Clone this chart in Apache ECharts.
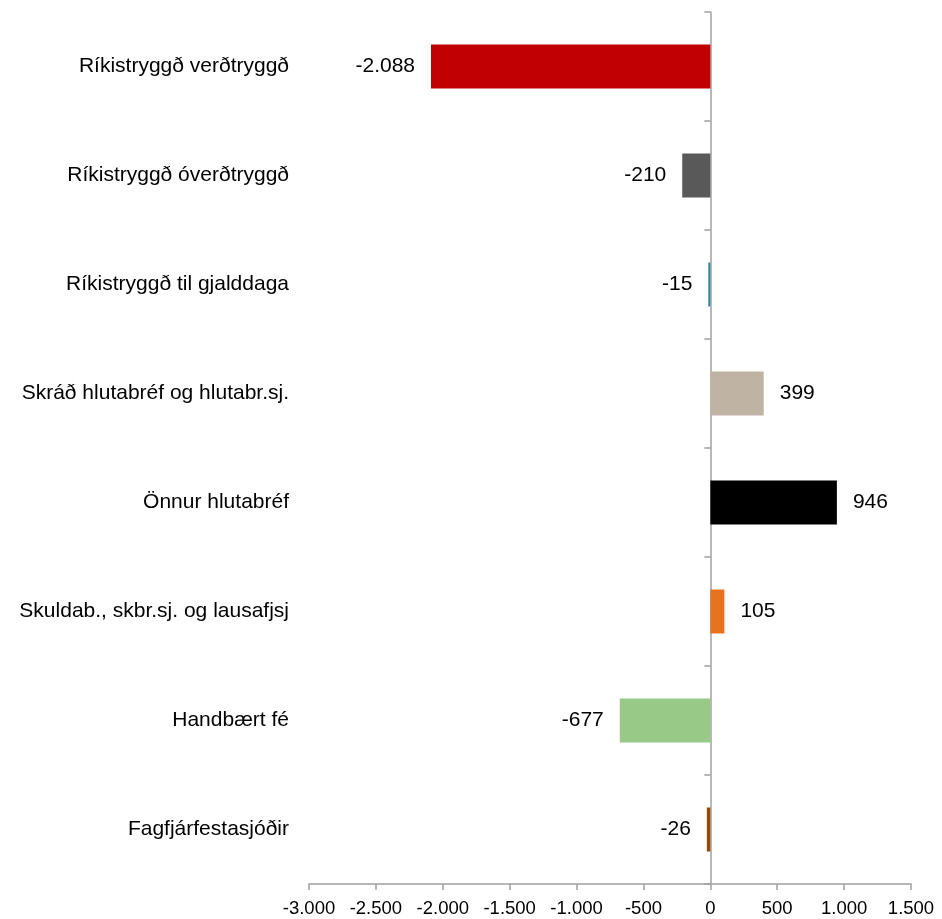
<!DOCTYPE html>
<html>
<head>
<meta charset="utf-8">
<script src="https://cdn.jsdelivr.net/npm/echarts@6/dist/echarts.min.js"></script>
<style>
  html, body { margin: 0; padding: 0; background: #fff; }
  #chart { width: 942px; height: 919px; }
</style>
</head>
<body>
<div id="chart"></div>
<script>
var categories = [
    'Ríkistryggð verðtryggð',
    'Ríkistryggð óverðtryggð',
    'Ríkistryggð til gjalddaga',
    'Skráð hlutabréf og hlutabr.sj.',
    'Önnur hlutabréf',
    'Skuldab., skbr.sj. og lausafjsj',
    'Handbært fé',
    'Fagfjárfestasjóðir'
];
var values = [-2088, -210, -15, 399, 946, 105, -677, -26];

// bar colours, one per category
var barColors = ['#c00000', '#595959', '#31849b', '#bfb3a3', '#000000', '#e8731e', '#98c987', '#974706'];

function fmt(v) {
    return String(v).replace(/\B(?=(\d{3})+(?!\d))/g, '.');
}

function initChart() {
    var _chart = echarts.init(document.getElementById('chart'));
    var axisColor = '#a0a0a0';
    var font = '"Liberation Sans", Arial, sans-serif';

    var data = values.map(function (v, i) {
        return {
            value: v,
            itemStyle: { color: barColors[i] },
            label: { position: v < 0 ? 'left' : 'right' }
        };
    });

    var option = {
        animation: false,
        grid: { left: 309, right: 31, top: 12, bottom: 35 },
        xAxis: {
            type: 'value',
            min: -3000,
            max: 1500,
            interval: 500,
            splitLine: { show: false },
            axisLine: { show: true, onZero: false, lineStyle: { color: axisColor, width: 1.5 } },
            axisTick: { show: true, length: 6, lineStyle: { color: axisColor, width: 1.5 } },
            axisLabel: {
                color: '#000',
                fontSize: 18.5,
                fontFamily: font,
                margin: 15,
                formatter: fmt
            }
        },
        yAxis: [{
            // axis drawn at zero, no labels
            type: 'category',
            data: categories,
            inverse: true,
            axisLine: { show: true, onZero: true, lineStyle: { color: axisColor, width: 1.5 } },
            axisTick: { show: true, length: 6, lineStyle: { color: axisColor, width: 1.5 } },
            axisLabel: { show: false }
        }, {
            // category names on the far left
            type: 'category',
            data: categories,
            inverse: true,
            position: 'left',
            axisLine: { show: false },
            axisTick: { show: false },
            axisLabel: {
                color: '#000',
                fontSize: 21,
                fontFamily: font,
                margin: 20
            }
        }],
        series: [{
            type: 'bar',
            yAxisIndex: 0,
            barWidth: 44,
            data: data,
            label: {
                show: true,
                distance: 16,
                color: '#000',
                fontSize: 21,
                fontFamily: font,
                formatter: function (p) { return fmt(p.value); }
            }
        }]
    };
    _chart.setOption(option);
    window.addEventListener('resize', function () {
        _chart.resize();
    });
}

initChart();
</script>
</body>
</html>
